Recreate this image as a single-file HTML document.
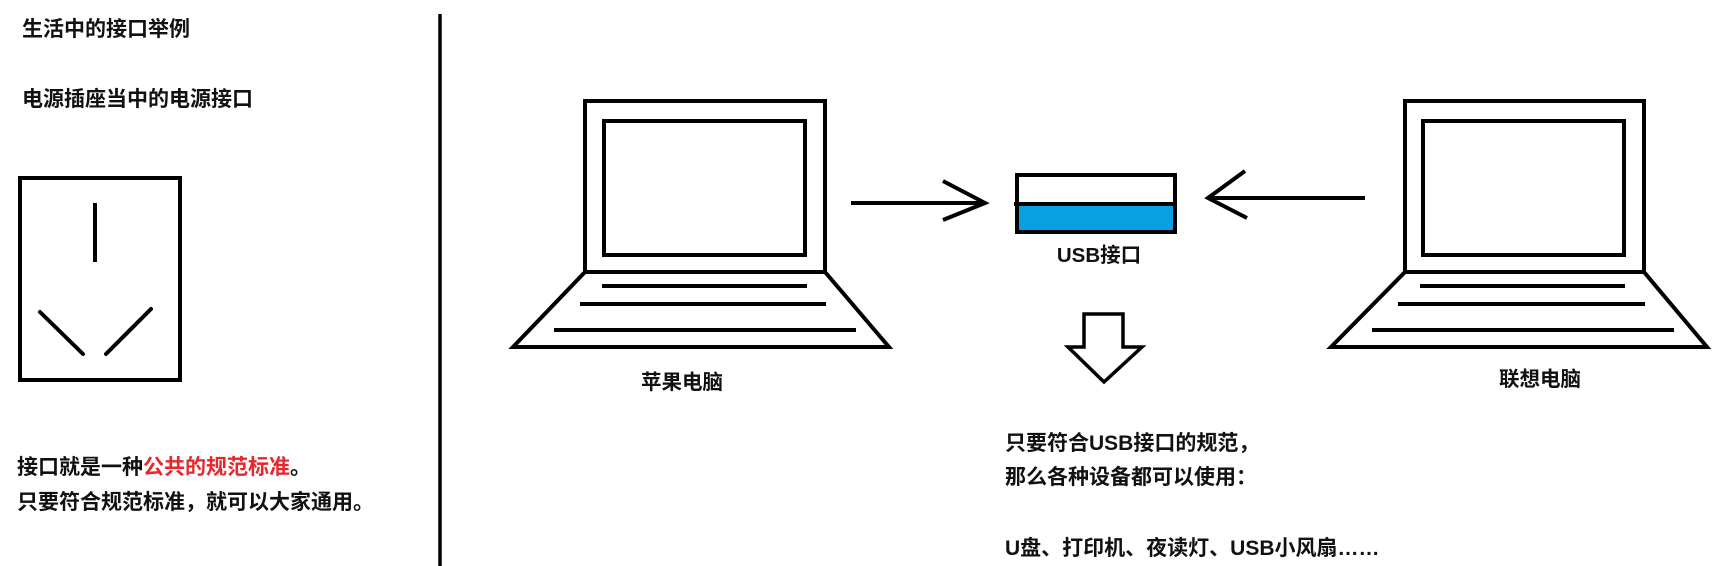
<!DOCTYPE html>
<html><head><meta charset="utf-8"><style>
html,body{margin:0;padding:0;background:#fff;}
svg{display:block}
text{font-family:"Liberation Sans","Noto Sans CJK SC",sans-serif;font-weight:bold;fill:#111;}
</style></head><body>
<svg width="1721" height="566" viewBox="0 0 1721 566" xmlns="http://www.w3.org/2000/svg">
<g font-size="21">
<text x="22" y="36">生活中的接口举例</text>
<text x="22" y="106">电源插座当中的电源接口</text>
<text x="17" y="474">接口就是一种<tspan fill="#e8262c">公共的规范标准</tspan>。</text>
<text x="17" y="509">只要符合规范标准，就可以大家通用。</text>
<text x="1005" y="450">只要符合USB接口的规范，</text>
<text x="1005" y="484">那么各种设备都可以使用：</text>
<text x="1005" y="555">U盘、打印机、夜读灯、USB小风扇……</text>
</g>
<g stroke="#000" fill="none" stroke-width="4">
<rect x="20" y="178" width="160" height="202"/>
<line x1="95" y1="203" x2="95" y2="262"/>
<line x1="40" y1="312" x2="83" y2="354" stroke-linecap="round"/>
<line x1="151" y1="309" x2="106" y2="354" stroke-linecap="round"/>
</g>
<line x1="440" y1="14" x2="440" y2="566" stroke="#000" stroke-width="3.5"/>
<!-- laptop 1 -->
<g stroke="#000" fill="none" stroke-width="4">
<rect x="585" y="101" width="240" height="171"/>
<rect x="604" y="121" width="201" height="134"/>
<polygon points="585,272 825,272 889,347 513,347"/>
<line x1="602" y1="286" x2="807" y2="286"/>
<line x1="580" y1="304" x2="826" y2="304"/>
<line x1="554" y1="330" x2="856" y2="330"/>
</g>
<!-- laptop 2 -->
<g stroke="#000" fill="none" stroke-width="4">
<rect x="1405" y="101" width="239" height="171"/>
<rect x="1423" y="121" width="201" height="134"/>
<polygon points="1405,272 1644,272 1707,347 1331,347"/>
<line x1="1420" y1="286" x2="1625" y2="286"/>
<line x1="1398" y1="304" x2="1645" y2="304"/>
<line x1="1372" y1="330" x2="1674" y2="330"/>
</g>
<!-- arrows -->
<g stroke="#000" fill="none" stroke-width="4">
<line x1="851" y1="203" x2="984" y2="203"/>
<polyline points="943,181 985,203 943,220"/>
<line x1="1208" y1="198" x2="1365" y2="198"/>
<polyline points="1245,171 1208,198 1247,218"/>
</g>
<!-- USB -->
<rect x="1017" y="204" width="158" height="28" fill="#0a9fe2"/>
<rect x="1017" y="175" width="158" height="57" fill="none" stroke="#000" stroke-width="4"/>
<line x1="1014" y1="204" x2="1176" y2="204" stroke="#000" stroke-width="4"/>
<text x="1099" y="262" font-size="20.5" text-anchor="middle">USB接口</text>
<polygon points="1084,314 1123,314 1123,347 1142,347 1104,382 1068,347 1084,347" fill="none" stroke="#000" stroke-width="3.5"/>
<text x="682" y="389" font-size="20.5" text-anchor="middle">苹果电脑</text>
<text x="1540" y="386" font-size="20.5" text-anchor="middle">联想电脑</text>
</svg>
</body></html>
